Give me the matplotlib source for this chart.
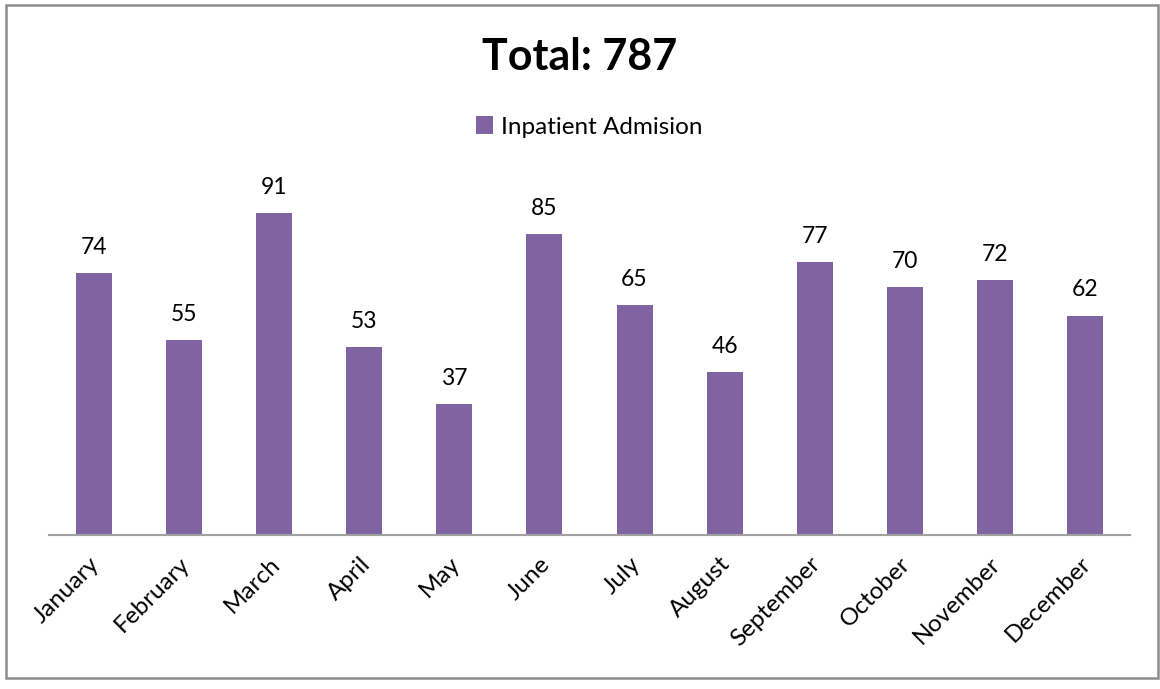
import numpy as np
import matplotlib.pyplot as plt
import matplotlib.transforms as mtransforms
from matplotlib.patches import Rectangle

plt.rcParams['font.family'] = ['Lato', 'DejaVu Sans']

months = ['January', 'February', 'March', 'April', 'May', 'June', 'July',
          'August', 'September', 'October', 'November', 'December']
admissions = [74, 55, 91, 53, 37, 85, 65, 46, 77, 70, 72, 62]
total = sum(admissions)

bar_color = '#8064A2'

fig = plt.figure(figsize=(11.6, 6.89), dpi=100)
W, H = 1160, 689

# marco gris alrededor del grafico
fig.patches.append(Rectangle((6 / W, 1 - 678 / H), 1152 / W, 673 / H,
                             transform=fig.transFigure, fill=False,
                             edgecolor='#8c8c8c', linewidth=1.8))

ax = fig.add_axes([49 / W, 1 - 535 / H, 1081 / W, 354 / H])

x = np.arange(len(months))
bars = ax.bar(x, admissions, width=0.4, color=bar_color,
              label='Inpatient Admision')

for xi, v in zip(x, admissions):
    ax.text(xi, v + 4.3, str(v), ha='center', va='bottom', fontsize=16.5)

ax.set_xlim(-0.5, len(months) - 0.5)
ax.set_ylim(0, 100)
ax.set_xticks(x)
ax.set_xticklabels(months, rotation=45, ha='right', va='top',
                   rotation_mode='anchor', fontsize=17.5)
ax.tick_params(axis='x', length=0, pad=13)
# mover etiquetas un poco a la izquierda
offset = mtransforms.ScaledTranslation(-5 / 100, 0, fig.dpi_scale_trans)
for lab in ax.get_xticklabels():
    lab.set_transform(lab.get_transform() + offset)
ax.set_yticks([])
for s in ['top', 'right', 'left']:
    ax.spines[s].set_visible(False)
ax.spines['bottom'].set_color('#a0a0a0')
ax.spines['bottom'].set_linewidth(1.5)

fig.text(0.5, 1 - 57 / H, f'Total: {total}', ha='center', va='center',
         fontsize=31, fontweight='bold')

fig.legend(handles=[bars], loc='center', bbox_to_anchor=(0.508, 1 - 127 / H),
           frameon=False, fontsize=17.5, handlelength=0.7, handleheight=0.7,
           handletextpad=0.35)

fig.savefig('out.png', dpi=100)
